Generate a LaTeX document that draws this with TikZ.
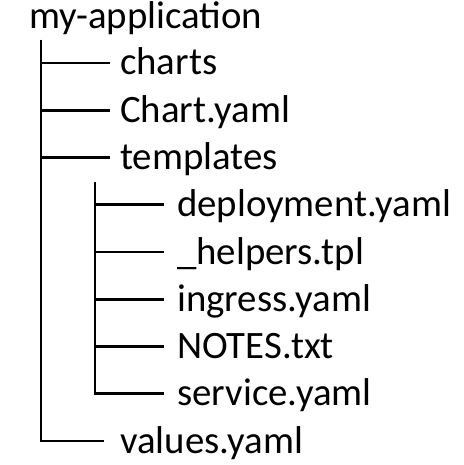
\documentclass[tikz,border=0pt]{standalone}
\usepackage{fontspec}
\setmainfont{Carlito}
\begin{document}
\begin{tikzpicture}[x=1pt,y=1pt,
  lbl/.style={anchor=base west,inner sep=0pt,font=\fontsize{38.8}{46}\selectfont},
  branch/.style={line width=2.6pt,line cap=butt}]
\useasboundingbox[fill=white] (0,0) rectangle (463,-465);
\node[lbl] (root) at (29,-29) {my-application};
\node[lbl] (charts) at (120,-75) {charts};
\node[lbl] (chart) at (120,-122.25) {Chart.yaml};
\node[lbl] (tmpl) at (120,-169.5) {templates};
\node[lbl] (dep) at (177,-216.75) {deployment.yaml};
\node[lbl] (help) at (177,-264) {\_helpers.tpl};
\node[lbl] (ing) at (177,-311.25) {ingress.yaml};
\node[lbl] (notes) at (177,-358.5) {NOTES.txt};
\node[lbl] (svc) at (177,-405.75) {service.yaml};
\node[lbl] (vals) at (120,-453) {values.yaml};
\coordinate (t1) at (41,-40);
\coordinate (t2) at (95,-182);
\foreach \n in {charts,chart,tmpl}
  \draw[branch] (t1) |- ([xshift=-10pt,yshift=12pt]\n.base west);
\draw[branch] (t1) |- ([xshift=-16pt,yshift=12pt]vals.base west);
\foreach \n in {dep,help,ing,notes,svc}
  \draw[branch] (t2) |- ([xshift=-13pt,yshift=12pt]\n.base west);
\end{tikzpicture}
\end{document}
